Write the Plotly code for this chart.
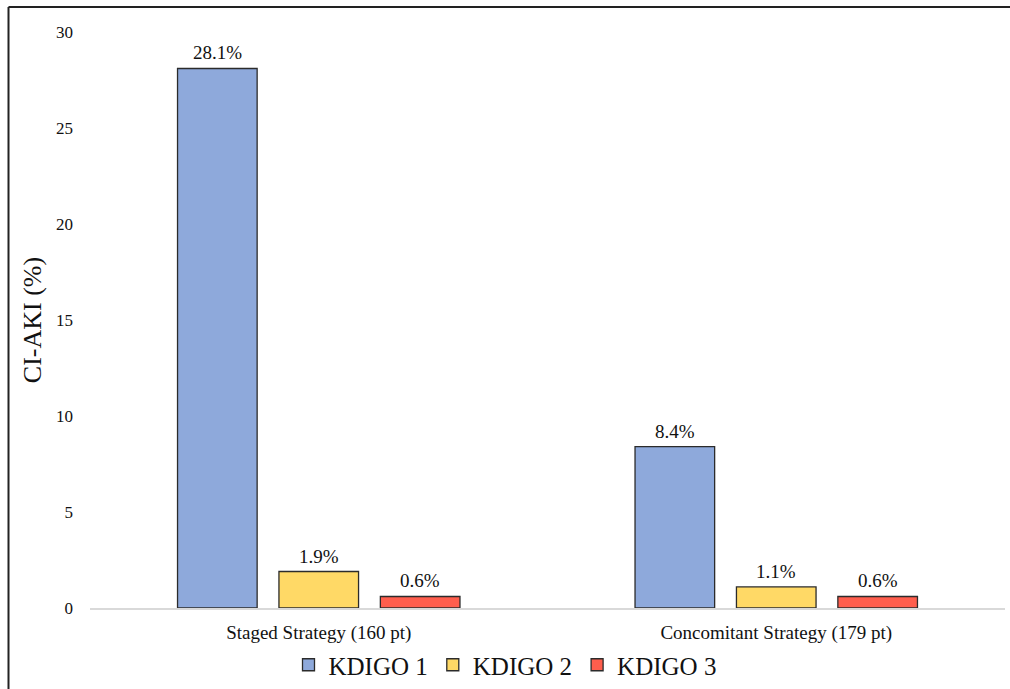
import plotly.graph_objects as go

categories = ["Staged Strategy (160 pt)", "Concomitant Strategy (179 pt)"]
series_names = ["KDIGO 1", "KDIGO 2", "KDIGO 3"]
kdigo1 = [28.1, 8.4]
kdigo2 = [1.9, 1.1]
kdigo3 = [0.6, 0.6]
y_ticks = [0, 5, 10, 15, 20, 25, 30]

colors = ["#8EA9DB", "#FFD966", "#FF5E4D"]
FONT = "Liberation Serif"

fig = go.Figure()
all_vals = [kdigo1, kdigo2, kdigo3]
for i, (name, vals, col) in enumerate(zip(series_names, all_vals, colors)):
    fig.add_trace(go.Bar(
        x=categories, y=vals, name=name, offsetgroup=str(i),
        marker=dict(color=col, line=dict(color="#2b2b2b", width=1.3)),
        cliponaxis=False,
    ))

L, R, T, B = 90, 5, 32, 81
W, H = 1010, 689
pw, ph = W - L - R, H - T - B

def px_x(p):
    return (p - L) / pw

def px_y(p):
    return (H - B - p) / ph

bargap, bargroupgap = 0.335, 0.215
annotations = []
n = len(series_names)
for i, vals in enumerate(all_vals):
    for j, v in enumerate(vals):
        group_w = 1 - bargap
        xpos = j - group_w / 2 + group_w / n * (i + 0.5)
        annotations.append(dict(
            x=xpos, y=v, xref="x", yref="y", text=f"{v}%", showarrow=False,
            yanchor="bottom", yshift=3,
            font=dict(family=FONT, size=19, color="#111"),
        ))

fig.update_layout(
    width=W, height=H,
    margin=dict(l=L, r=R, t=T, b=B, autoexpand=False),
    paper_bgcolor="white", plot_bgcolor="white",
    barmode="group", bargap=bargap, bargroupgap=bargroupgap,
    font=dict(family=FONT, color="#111"),
    showlegend=True,
    legend=dict(orientation="h", x=px_x(505), y=px_y(665), xanchor="center", yanchor="middle",
                bgcolor="rgba(0,0,0,0)",
                font=dict(family=FONT, size=25, color="#111"), itemwidth=30, traceorder="normal"),
    xaxis=dict(showgrid=False, showline=True, linecolor="#D9D9D9", linewidth=1.5, automargin=False,
               ticks="", ticklabelstandoff=6, tickfont=dict(family=FONT, size=19, color="#111")),
    yaxis=dict(range=[0, 30], tickvals=y_ticks, showgrid=False, zeroline=False, showline=False,
               ticks="", ticklabelstandoff=16, automargin=False,
               tickfont=dict(family=FONT, size=17, color="#111"),
               title=dict(text="CI-AKI (%)", font=dict(family=FONT, size=26, color="#111"), standoff=6)),
    annotations=annotations,
    shapes=[
        dict(type="line", xref="paper", yref="paper", x0=px_x(8.5), x1=px_x(8.5), y0=px_y(7), y1=px_y(700),
             line=dict(color="#222", width=2)),
        dict(type="line", xref="paper", yref="paper", x0=px_x(8.5), x1=px_x(1020), y0=px_y(7), y1=px_y(7),
             line=dict(color="#222", width=2)),
    ],
)

fig.write_html("out.html")
